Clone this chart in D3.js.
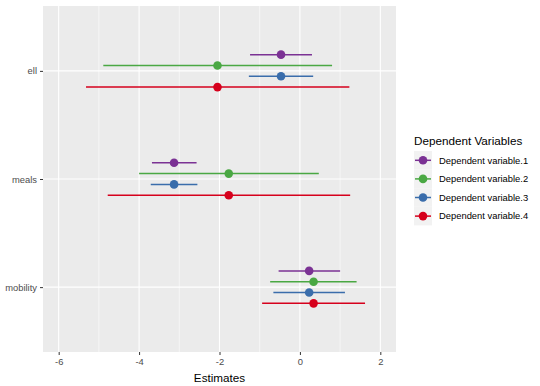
<!DOCTYPE html>
<meta charset="utf-8">
<script src="https://d3js.org/d3.v7.min.js"></script>
<style>
  body { margin: 0; background: #fff; }
  text { font-family: "Liberation Sans", Arial, sans-serif; }
</style>
<body>
<div id="chart"></div>
<script>

// terms on the y axis, top to bottom
var terms = ["ell", "meals", "mobility"];
var series = ["Dependent variable.1", "Dependent variable.2", "Dependent variable.3", "Dependent variable.4"];
var colors = ["#7b3294", "#4aa843", "#3a6dab", "#d6001c"];

// estimate, low, high for each term (rows follow terms)
var est1 = [-0.47, -3.13, 0.23];
var low1 = [-1.24, -3.68, -0.53];
var high1 = [0.30, -2.57, 1.00];

var est2 = [-2.05, -1.77, 0.34];
var low2 = [-4.89, -4.00, -0.74];
var high2 = [0.80, 0.47, 1.41];

var est3 = [-0.47, -3.13, 0.23];
var low3 = [-1.27, -3.71, -0.66];
var high3 = [0.33, -2.55, 1.12];

var est4 = [-2.05, -1.77, 0.34];
var low4 = [-5.32, -4.78, -0.94];
var high4 = [1.23, 1.25, 1.62];

var xTicks = [-6, -4, -2, 0, 2];
var xMinor = [-5, -3, -1, 1];

var ests = [est1, est2, est3, est4], lows = [low1, low2, low3, low4], highs = [high1, high2, high3, high4];
var data = [];
series.forEach(function(s, i) {
  terms.forEach(function(t, j) {
    data.push({ series: s, idx: i, term: t, est: ests[i][j], low: lows[i][j], high: highs[i][j] });
  });
});

var W = 540, H = 386;
var margin = {top: 6, right: 144, bottom: 34, left: 43},
    width = W - margin.left - margin.right,
    height = H - margin.top - margin.bottom;

var svg = d3.select("#chart").append("svg")
    .attr("width", W).attr("height", H);

var g = svg.append("g")
    .attr("transform", "translate(" + margin.left + "," + margin.top + ")");

var x = d3.scaleLinear().domain([-6.39, 2.39]).range([0, width]);
var y = d3.scalePoint().domain(terms).range([0, height]).padding(0.6);
var step = y.step();
var dodge = d3.scalePoint().domain(series).range([-0.15 * step, 0.15 * step]);

g.append("rect").attr("width", width).attr("height", height).attr("fill", "#ebebeb");

g.selectAll(".minor").data(xMinor).join("line")
  .attr("x1", d => x(d)).attr("x2", d => x(d))
  .attr("y1", 0).attr("y2", height)
  .attr("stroke", "#fff").attr("stroke-width", 0.55);

g.selectAll(".majorx").data(xTicks).join("line")
  .attr("x1", d => x(d)).attr("x2", d => x(d))
  .attr("y1", 0).attr("y2", height)
  .attr("stroke", "#fff").attr("stroke-width", 1.1);

g.selectAll(".majory").data(terms).join("line")
  .attr("x1", 0).attr("x2", width)
  .attr("y1", d => y(d)).attr("y2", d => y(d))
  .attr("stroke", "#fff").attr("stroke-width", 1.1);

// axes
var xAxis = g.append("g")
  .attr("transform", "translate(0," + height + ")")
  .call(d3.axisBottom(x).tickValues(xTicks).tickSize(3).tickPadding(3).tickFormat(d => String(d)));
var yAxis = g.append("g")
  .call(d3.axisLeft(y).tickSize(3).tickPadding(3));
[xAxis, yAxis].forEach(function(a) {
  a.select(".domain").remove();
  a.selectAll("line").attr("stroke", "#333").attr("stroke-width", 1);
  a.selectAll("text").attr("fill", "#4d4d4d").style("font-size", "9.4px")
    .style("font-family", "'Liberation Sans', Arial, sans-serif");
});

g.append("text")
  .attr("x", width / 2).attr("y", height + 30)
  .attr("text-anchor", "middle")
  .style("font-size", "11.7px").attr("fill", "#000")
  .text("Estimates");

// error bars and points
var marks = g.append("g").selectAll("g").data(data).join("g")
  .attr("transform", d => "translate(0," + (y(d.term) + dodge(d.series)) + ")");
marks.append("line")
  .attr("x1", d => x(d.low)).attr("x2", d => x(d.high))
  .attr("stroke", d => colors[d.idx]).attr("stroke-width", 1.5);
marks.append("circle")
  .attr("cx", d => x(d.est)).attr("r", 4.3)
  .attr("fill", d => colors[d.idx]);

// legend
var lg = svg.append("g").attr("transform", "translate(414,0)");
lg.append("text").attr("x", 0).attr("y", 145)
  .style("font-size", "11.7px").attr("fill", "#000")
  .text("Dependent Variables");
var items = lg.selectAll(".item").data(series).join("g")
  .attr("transform", (d, i) => "translate(0," + (151 + i * 18.6) + ")");
items.append("rect").attr("width", 18).attr("height", 18.6).attr("fill", "#f2f2f2");
items.append("line").attr("x1", 1).attr("x2", 17).attr("y1", 9.3).attr("y2", 9.3)
  .attr("stroke", (d, i) => colors[i]).attr("stroke-width", 1.5);
items.append("circle").attr("cx", 9).attr("cy", 9.3).attr("r", 4.3)
  .attr("fill", (d, i) => colors[i]);
items.append("text").attr("x", 25).attr("y", 12.7)
  .style("font-size", "9.4px").attr("fill", "#000")
  .text(d => d);

</script>
</body>
